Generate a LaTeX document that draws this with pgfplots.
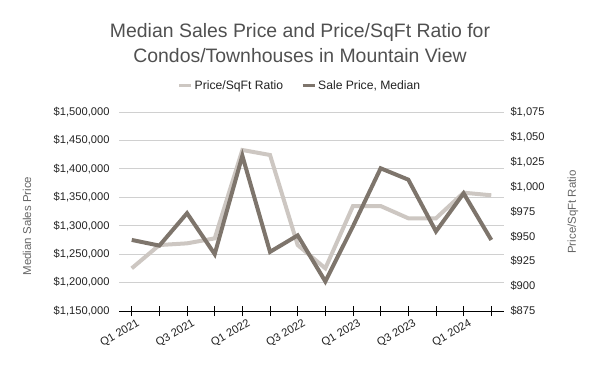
\documentclass[border=0pt]{standalone}
\usepackage{pgfplots}
\pgfplotsset{compat=1.18}
\usepackage{fontspec}
\setmainfont{Liberation Sans}
\definecolor{lightc}{RGB}{205,199,194}
\definecolor{darkc}{RGB}{126,117,108}
\definecolor{gridc}{RGB}{208,208,208}
\definecolor{titlec}{RGB}{80,80,80}
\definecolor{labc}{RGB}{102,102,102}
\definecolor{tickc}{RGB}{34,34,34}
\begin{document}
\begin{tikzpicture}[x=1bp,y=1bp]
\path[use as bounding box] (0,0) rectangle (600,371);
\pgfplotsset{
  common/.style={
    at={(119bp,60bp)}, anchor=south west,
    width=385bp, height=199bp, scale only axis,
    xmin=-0.46, xmax=13.46,
    scaled y ticks=false,
    /pgf/number format/assume math mode=true,
    tick label style={font=\fontsize{11.2}{13}\selectfont, color=tickc},
    y axis line style={draw=none},
    ytick style={draw=none},
  },
  leftax/.style={
    ymin=1150000, ymax=1500000,
    ytick={1150000,1200000,1250000,1300000,1350000,1400000,1450000,1500000},
  },
}
% 1: left axis with grid and x axis
\begin{axis}[common, leftax,
  axis x line*=bottom, axis y line*=left,
  x axis line style={-, black, line width=1bp},
  xtick={0,...,13},
  xticklabels={Q1 2021,,Q3 2021,,Q1 2022,,Q3 2022,,Q1 2023,,Q3 2023,,Q1 2024,},
  xtick style={black, line width=0.8bp},
  tick align=center, major tick length=10bp,
  x tick label style={rotate=30, anchor=north east, xshift=6bp, yshift=-1bp},
  yticklabels={{\$1,150,000},{\$1,200,000},{\$1,250,000},{\$1,300,000},{\$1,350,000},{\$1,400,000},{\$1,450,000},{\$1,500,000}},
  y tick label style={xshift=-1bp},
  ymajorgrids, grid style={gridc, line width=0.8bp},
]
\addplot[draw=none] coordinates {(0,1150000)};
\end{axis}
% 2: right axis: Price/SqFt
\begin{axis}[common,
  hide x axis, axis y line*=right,
  ymin=875, ymax=1075,
  ytick={875,900,925,950,975,1000,1025,1050,1075},
  yticklabels={\$875,\$900,\$925,\$950,\$975,{\$1,000},{\$1,025},{\$1,050},{\$1,075}},
  y tick label style={xshift=3bp},
]
\addplot[lightc, line width=4bp] coordinates {
(0,917.9) (1,941.3) (2,943) (3,948) (4,1036.8) (5,1031.8) (6,941.3)
(7,917.9) (8,980.5) (9,980.5) (10,968.2) (11,968.2) (12,993.9) (13,991.3)};
\end{axis}
% 3: left scale, sale price line + legend
\begin{axis}[common, leftax,
  hide axis,
  legend columns=2,
  legend style={at={(axis description cs:0.47,1.1307)}, anchor=center,
    draw=none, fill=none, font=\fontsize{12.2}{14}\selectfont\color{tickc},
    /tikz/every even column/.append style={column sep=16bp}},
  legend image code/.code={\draw[#1, line width=3bp] (0bp,0bp) -- (12bp,0bp);},
]
\addlegendimage{lightc}
\addlegendentry{Price/SqFt Ratio}
\addplot[darkc, line width=4bp] coordinates {
(0,1275000) (1,1265000) (2,1322000) (3,1250000) (4,1423000) (5,1254000) (6,1283000)
(7,1202000) (8,1299000) (9,1401000) (10,1381000) (11,1290000) (12,1357000) (13,1275000)};
\addlegendentry{Sale Price, Median}
\end{axis}
\node[font=\fontsize{19.5}{23}\selectfont, color=titlec] at (300,339) {Median Sales Price and Price/SqFt Ratio for};
\node[font=\fontsize{19.5}{23}\selectfont, color=titlec] at (300,315) {Condos/Townhouses in Mountain View};
\node[rotate=90, font=\fontsize{11.5}{13}\selectfont, color=labc] at (27,145) {Median Sales Price};
\node[rotate=90, font=\fontsize{11.5}{13}\selectfont, color=labc] at (573,159) {Price/SqFt Ratio};
\end{tikzpicture}
\end{document}
